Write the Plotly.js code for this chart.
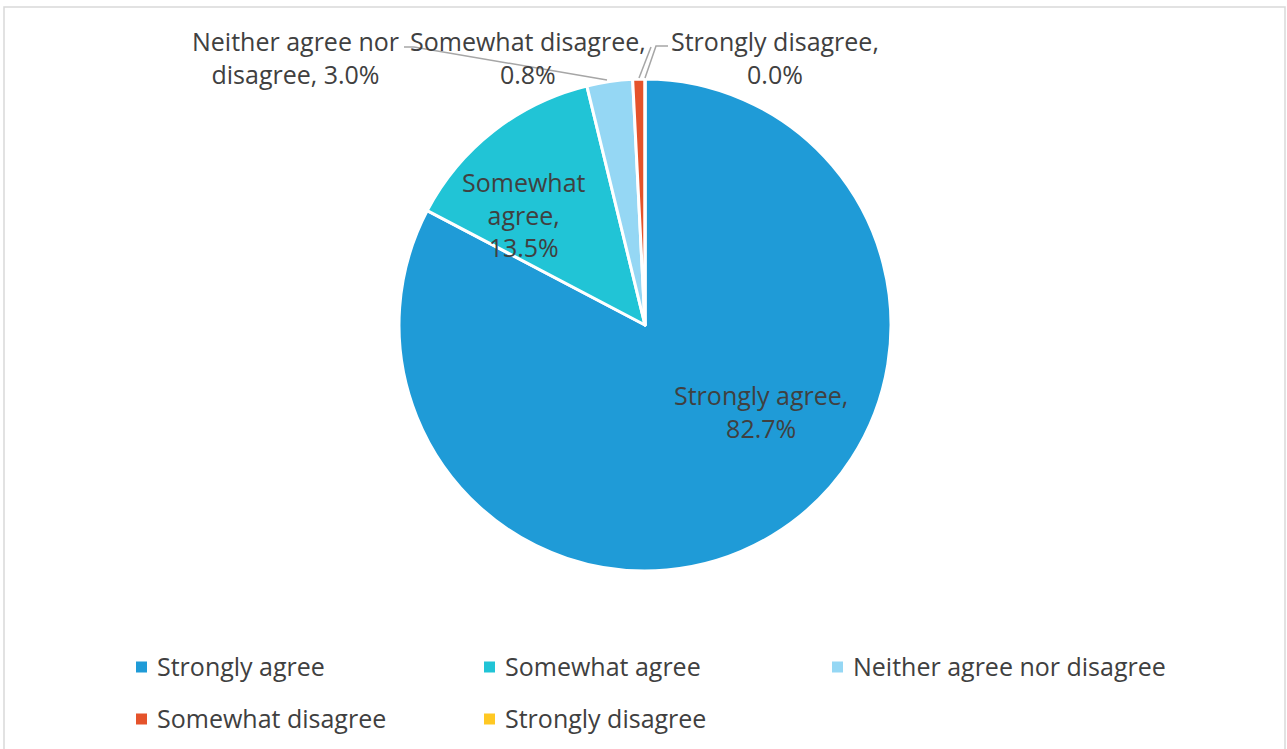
<!DOCTYPE html>
<html>
<head>
<meta charset="utf-8">
<script src="https://cdn.plot.ly/plotly-3.0.1.min.js"></script>
<style>html,body{margin:0;padding:0;background:#fff;overflow:hidden;}#chart{width:1287px;height:749px;}</style>
</head>
<body>
<div id="chart"></div>
<script>
const categories = ["Strongly agree", "Somewhat agree", "Neither agree nor disagree", "Somewhat disagree", "Strongly disagree"];
const values = [82.7, 13.5, 3.0, 0.8, 0.0];
const colors = ["#1F9BD7", "#21C4D6", "#95D7F4", "#E5532B", "#FFC823"];
const labelLines = [
  ["Strongly agree,"],
  ["Somewhat", "agree,"],
  ["Neither agree nor", "disagree,"],
  ["Somewhat disagree,"],
  ["Strongly disagree,"]
];

const W = 1287, H = 749;
const px = x => x / W;
const py = y => 1 - y / H;
const cx = 645, cy = 325, R = 246;

const textColor = "#404040";
const fontFam = "'Open Sans', 'Noto Sans', sans-serif";
const fs = 25;

function labelText(i) {
  const pct = values[i].toFixed(1) + "%";
  const l = labelLines[i].slice();
  if (i === 2) { l[l.length - 1] = l[l.length - 1] + " " + pct; }
  else { l.push(pct); }
  return l.join("<br>");
}

const labelPos = [[761, 411], [524, 214], [295, 57], [528, 57], [775, 57]];

const annotations = labelPos.map((p, i) => ({
  x: px(p[0]), y: py(p[1]), xref: "paper", yref: "paper",
  text: labelText(i), showarrow: false, xanchor: "center", yanchor: "middle",
  font: {family: fontFam, size: fs, color: textColor}, align: "center"
}));

const leaderColor = "#A6A6A6";
function pathPx(pts) {
  return pts.map((p, k) => (k === 0 ? "M" : "L") + px(p[0]) + "," + py(p[1])).join(" ");
}
const shapes = [
  {type: "rect", xref: "paper", yref: "paper", x0: px(4), x1: px(1285), y0: py(760), y1: py(7),
   line: {color: "#D9D9D9", width: 1.5}, fillcolor: "rgba(0,0,0,0)", layer: "below"},
  {type: "path", xref: "paper", yref: "paper", path: pathPx([[404, 47], [414, 47], [607, 80]]), line: {color: leaderColor, width: 1.5}},
  {type: "path", xref: "paper", yref: "paper", path: pathPx([[651, 47], [639, 78]]), line: {color: leaderColor, width: 1.5}},
  {type: "path", xref: "paper", yref: "paper", path: pathPx([[668, 46], [656, 46], [645, 78]]), line: {color: leaderColor, width: 1.5}}
];

// Legend (3 columns x 2 rows) built from categories and colors
const legX0 = 136, legColW = 348, legY0 = 667, legRowH = 52, sq = 11;
categories.forEach((c, i) => {
  const col = i % 3, row = Math.floor(i / 3);
  const mx = legX0 + col * legColW, my = legY0 + row * legRowH;
  shapes.push({type: "rect", xref: "paper", yref: "paper",
    x0: px(mx), x1: px(mx + sq), y0: py(my + sq / 2), y1: py(my - sq / 2),
    line: {width: 0}, fillcolor: colors[i]});
  annotations.push({x: px(mx + 19), y: py(my - 1), xref: "paper", yref: "paper",
    text: c, showarrow: false, xanchor: "left", yanchor: "middle",
    font: {family: fontFam, size: fs, color: textColor}});
});

const trace = {
  type: "pie",
  labels: categories,
  values: values,
  sort: false,
  direction: "clockwise",
  rotation: 0,
  textinfo: "none",
  hoverinfo: "label+percent",
  marker: {colors: colors, line: {color: "#FFFFFF", width: 3}},
  domain: {x: [px(cx - R), px(cx + R)], y: [py(cy + R), py(cy - R)]},
  showlegend: false
};

const layout = {
  width: W, height: H,
  margin: {l: 0, r: 0, t: 0, b: 0, autoexpand: false},
  paper_bgcolor: "#FFFFFF",
  showlegend: false,
  annotations: annotations,
  shapes: shapes
};

Plotly.newPlot("chart", [trace], layout, {displayModeBar: false, staticPlot: true});
</script>
</body>
</html>
